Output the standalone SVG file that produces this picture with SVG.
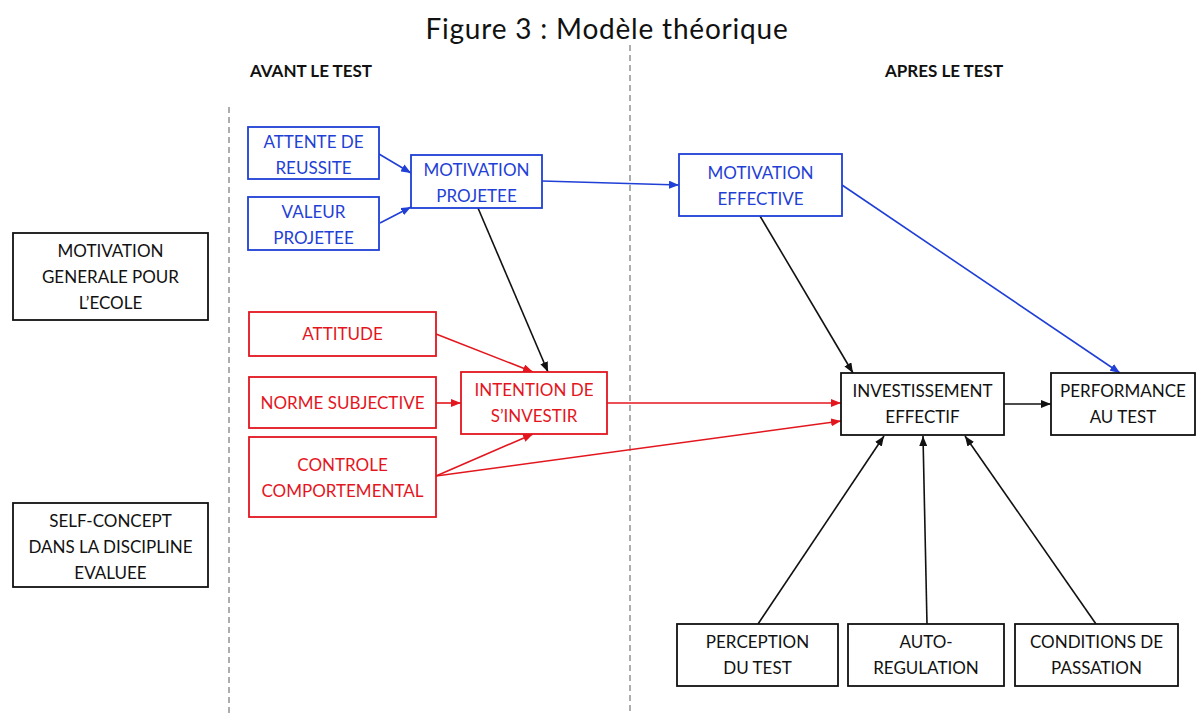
<svg xmlns="http://www.w3.org/2000/svg" width="1196" height="713" viewBox="0 0 1196 713">
<style>
text{font-family:Lato,"Liberation Sans",sans-serif;font-size:17px;text-anchor:middle}
.box{fill:#fff;stroke-width:1.8}
.b rect{stroke:#1f3fd6}.b text{fill:#1f3fd6}
.r rect{stroke:#e3161e}.r text{fill:#e3161e}
.k rect{stroke:#111}.k text{fill:#111}
.c{fill:none;stroke-width:1.6}
.cb{stroke:#1f3fd6;marker-end:url(#ab)}
.cr{stroke:#e3161e;marker-end:url(#ar)}
.ck{stroke:#111;marker-end:url(#ak)}
.hd{font-weight:bold;font-size:17px;fill:#111}
.dash{stroke:#777;stroke-width:1.2;stroke-dasharray:6 4}
</style>
<defs>
<marker id="ab" markerUnits="userSpaceOnUse" markerWidth="10" markerHeight="8" refX="10" refY="4" orient="auto"><path d="M0,0L10,4L0,8z" fill="#1f3fd6"/></marker>
<marker id="ar" markerUnits="userSpaceOnUse" markerWidth="10" markerHeight="8" refX="10" refY="4" orient="auto"><path d="M0,0L10,4L0,8z" fill="#e3161e"/></marker>
<marker id="ak" markerUnits="userSpaceOnUse" markerWidth="10" markerHeight="8" refX="10" refY="4" orient="auto"><path d="M0,0L10,4L0,8z" fill="#111"/></marker>
</defs>
<rect width="1196" height="713" fill="#fff"/>
<text x="607" y="39" style="font-size:28px;letter-spacing:0.8px" fill="#111">Figure 3 : Modèle théorique</text>
<text class="hd" x="311" y="77">AVANT LE TEST</text>
<text class="hd" x="944" y="77">APRES LE TEST</text>
<line class="dash" x1="229" y1="107" x2="229" y2="713"/>
<line class="dash" x1="630" y1="45" x2="630" y2="713"/>

<g id="connectors">
<line class="c cb" x1="379" y1="154" x2="411" y2="173"/>
<line class="c cb" x1="380" y1="223" x2="411" y2="207"/>
<line class="c cb" x1="542" y1="181" x2="679" y2="185"/>
<line class="c cb" x1="842" y1="185" x2="1120" y2="373"/>
<line class="c ck" x1="478" y1="208" x2="548" y2="372"/>
<line class="c ck" x1="760" y1="216" x2="853" y2="373"/>
<line class="c ck" x1="1004" y1="404" x2="1051" y2="404"/>
<line class="c ck" x1="758" y1="624" x2="884" y2="436"/>
<line class="c ck" x1="927" y1="624" x2="923" y2="436"/>
<line class="c ck" x1="1096" y1="624" x2="965" y2="436"/>
<line class="c cr" x1="436" y1="334" x2="533" y2="372"/>
<line class="c cr" x1="436" y1="403" x2="461" y2="403"/>
<line class="c cr" x1="436" y1="476" x2="533" y2="434"/>
<line class="c cr" x1="436" y1="476" x2="841" y2="421"/>
<line class="c cr" x1="607" y1="403" x2="841" y2="403"/>
</g>

<g id="attente" class="b"><rect class="box" x="248" y="127" width="131" height="52"/><text x="313.5" y="148">ATTENTE DE</text><text x="313.5" y="174">REUSSITE</text></g>
<g id="valeur" class="b"><rect class="box" x="248" y="197" width="131" height="53"/><text x="313.5" y="218">VALEUR</text><text x="313.5" y="244">PROJETEE</text></g>
<g id="motivproj" class="b"><rect class="box" x="411" y="155" width="131" height="53"/><text x="476.5" y="176">MOTIVATION</text><text x="476.5" y="202">PROJETEE</text></g>
<g id="motiveff" class="b"><rect class="box" x="679" y="154" width="163" height="62"/><text x="760.5" y="179">MOTIVATION</text><text x="760.5" y="205">EFFECTIVE</text></g>
<g id="motivgen" class="k"><rect class="box" x="13" y="233" width="195" height="87"/><text x="110.5" y="257">MOTIVATION</text><text x="110.5" y="283">GENERALE POUR</text><text x="110.5" y="309">L’ECOLE</text></g>
<g id="selfconcept" class="k"><rect class="box" x="13" y="503" width="195" height="84"/><text x="110.5" y="527">SELF-CONCEPT</text><text x="110.5" y="553">DANS LA DISCIPLINE</text><text x="110.5" y="579">EVALUEE</text></g>
<g id="attitude" class="r"><rect class="box" x="249" y="312" width="187" height="44"/><text x="342.5" y="340">ATTITUDE</text></g>
<g id="norme" class="r"><rect class="box" x="249" y="377" width="187" height="51"/><text x="342.5" y="409">NORME SUBJECTIVE</text></g>
<g id="controle" class="r"><rect class="box" x="249" y="437" width="187" height="80"/><text x="342.5" y="471">CONTROLE</text><text x="342.5" y="497">COMPORTEMENTAL</text></g>
<g id="intention" class="r"><rect class="box" x="461" y="372" width="146" height="62"/><text x="534" y="396">INTENTION DE</text><text x="534" y="422">S’INVESTIR</text></g>
<g id="invest" class="k"><rect class="box" x="841" y="373" width="163" height="62"/><text x="922.5" y="397">INVESTISSEMENT</text><text x="922.5" y="423">EFFECTIF</text></g>
<g id="perf" class="k"><rect class="box" x="1051" y="373" width="144" height="62"/><text x="1123" y="397">PERFORMANCE</text><text x="1123" y="423">AU TEST</text></g>
<g id="perception" class="k"><rect class="box" x="677" y="624" width="161" height="62"/><text x="757.5" y="648">PERCEPTION</text><text x="757.5" y="674">DU TEST</text></g>
<g id="autoreg" class="k"><rect class="box" x="848" y="624" width="156" height="62"/><text x="926" y="648">AUTO-</text><text x="926" y="674">REGULATION</text></g>
<g id="conditions" class="k"><rect class="box" x="1015" y="624" width="163" height="62"/><text x="1096.5" y="648">CONDITIONS DE</text><text x="1096.5" y="674">PASSATION</text></g>
</svg>
